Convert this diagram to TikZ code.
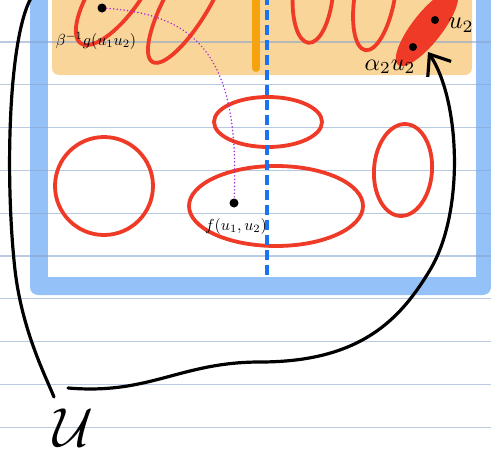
\documentclass[tikz,border=0pt]{standalone}
\usepackage{amsmath}
\usepackage{tikz}
\usetikzlibrary{arrows.meta,positioning,calc}
\usepackage{xcolor}
\definecolor{nbFrame}{HTML}{95C1F9}
\definecolor{nbOrange}{HTML}{FAD599}
\definecolor{nbBar}{HTML}{F5A30F}
\definecolor{nbDash}{HTML}{1A73F0}
\definecolor{nbRed}{HTML}{EE3A27}
\definecolor{nbViolet}{HTML}{A324D6}
\definecolor{nbRule}{HTML}{8AA6CF}
\tikzset{
  ruleline/.style={draw=nbRule, line width=1.1pt, opacity=0.6},
  barline/.style={draw=nbBar, line width=8pt, line cap=round},
  splitline/.style={draw=nbDash, line width=4.5pt, dash pattern=on 10pt off 5pt},
  redloop/.style={draw=nbRed, line width=3.8pt},
  dotmark/.style={circle, fill=black, inner sep=0pt, minimum size=9pt},
  handlabel/.style={inner sep=1pt, scale=1.6},
  pathdots/.style={draw=nbViolet, line width=1.6pt, line cap=round, dash pattern=on 0.1pt off 3.4pt},
  handstroke/.style={draw=black, line width=3.2pt, line cap=round},
  handarrow/.style={handstroke, -{Straight Barb[length=18pt,width=28pt]}}
}
\begin{document}
\begin{tikzpicture}[x=1pt,y=-1pt]
  \useasboundingbox (0,0) rectangle (491,461);
  \clip (0,0) rectangle (491,461);
  % page frame and orange strip
  \fill[nbFrame, rounded corners=8pt] (30,-20) rectangle (491,295);
  \fill[white] (48,-20) rectangle (476,277);
  \fill[nbOrange, rounded corners=7pt] (52,-20) rectangle (472,75);
  % notebook rules
  \foreach \k in {0,...,9}{\draw[ruleline] (0,42+42.8*\k) -- (491,42+42.8*\k);}
  \draw[barline] (256,-5) -- (256,68);
  % level sets
  \foreach \cx/\cy/\rx/\ry/\tilt in {118/-10/65/24/55, 190/-3/75/22/60, 313/-8/20/51/-5, 375/-5/20/56/-10, 104/186/49/49/0, 268/122/54/25/0, 276/206/87/40/0, 403/170/29/46/-4}
    \draw[redloop, rotate around={\tilt:(\cx,\cy)}] (\cx,\cy) ellipse [x radius=\rx, y radius=\ry];
  \fill[nbRed, rotate around={52:(427,28)}] (427,28) ellipse [x radius=47, y radius=15];
  \draw[splitline] (267,-5) -- (267,276);
  % points and labels
  \node[dotmark] (pg) at (102,8) {};
  \node[dotmark] (pf) at (234,203) {};
  \node[dotmark, minimum size=8pt] (pu) at (435,20) {};
  \node[dotmark, minimum size=8pt] (pa) at (413,47) {};
  \node[handlabel] (lg) at (96,41) {$\beta^{-1}g(u_1u_2)$};
  \node[handlabel] (lf) at (236,226) {$f(u_1,u_2)$};
  \node[handlabel, scale=1.55] (lu) at (461,25) {$u_2$};
  \node[handlabel, scale=1.5] (la) at (390,67) {$\alpha_2u_2$};
  \node[scale=5.5] (U) at (73,428) {$\mathcal{U}$};
  \draw[pathdots] (pg) .. controls (200,15) and (240,60) .. (pf);
  % the set U and where it goes
  \coordinate (ltop) at (31,-2);
  \coordinate (lend) at (54,397);
  \coordinate (ustart) at (68,388);
  \coordinate (tip) at (428,52);
  \draw[handstroke] (ltop) .. controls (8,40) and (5,180) .. (15,270) .. controls (22,330) and (45,375) .. (lend);
  \draw[handarrow] (ustart) .. controls (150,395) and (180,362) .. (260,362) .. controls (360,362) and (400,320) .. (430,270) .. controls (465,212) and (460,100) .. (tip);
\end{tikzpicture}
\end{document}
